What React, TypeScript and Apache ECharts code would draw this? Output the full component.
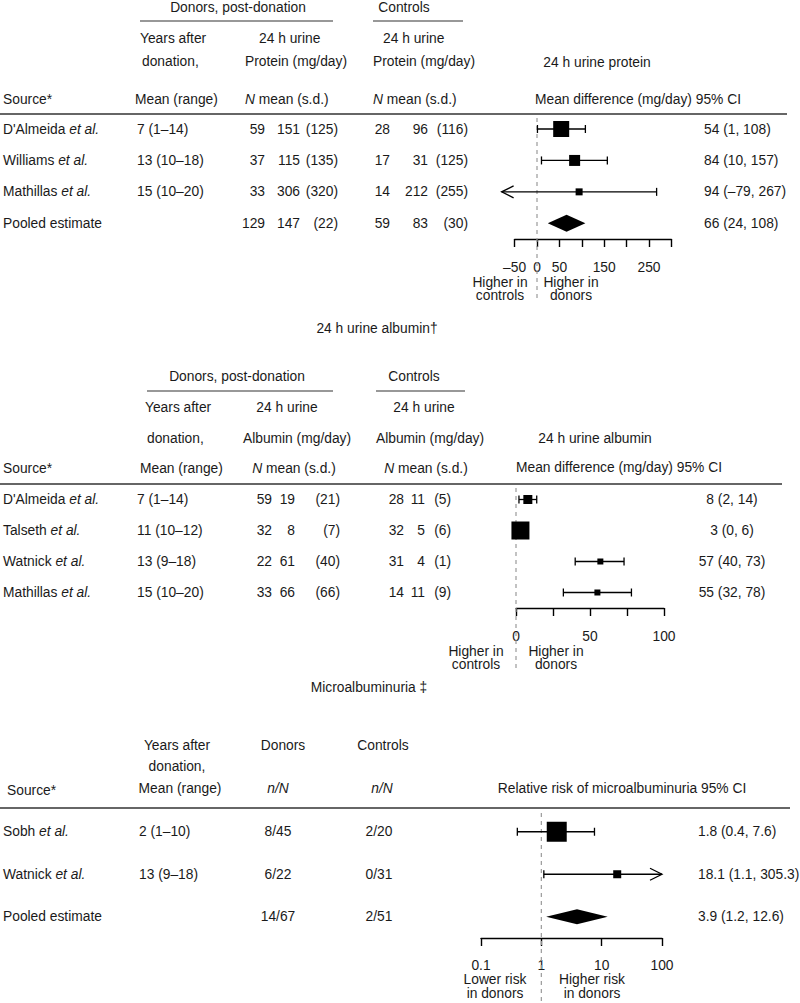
import React, { useEffect, useRef } from 'react';
import * as echarts from 'echarts';

// ---------------- Data: 24 h urine protein ----------------
const proteinSources = ["D'Almeida", 'Williams', 'Mathillas', 'Pooled estimate'];
const proteinEtAl = [true, true, true, false];
const proteinYears = ['7 (1\u201314)', '13 (10\u201318)', '15 (10\u201320)', ''];
const proteinDonorN = [59, 37, 33, 129];
const proteinDonorMean = [151, 115, 306, 147];
const proteinDonorSD = [125, 135, 320, 22];
const proteinCtrlN = [28, 17, 14, 59];
const proteinCtrlMean = [96, 31, 212, 83];
const proteinCtrlSD = [116, 125, 255, 30];
const proteinDiff = [54, 84, 94, 66];
const proteinLo = [1, 10, -79, 24];
const proteinHi = [108, 157, 267, 108];
const proteinPooled = [false, false, false, true];
const proteinTickLabels = [-50, 0, 50, 150, 250];

// ---------------- Data: 24 h urine albumin ----------------
const albuminSources = ["D'Almeida", 'Talseth', 'Watnick', 'Mathillas'];
const albuminYears = ['7 (1\u201314)', '11 (10\u201312)', '13 (9\u201318)', '15 (10\u201320)'];
const albuminDonorN = [59, 32, 22, 33];
const albuminDonorMean = [19, 8, 61, 66];
const albuminDonorSD = [21, 7, 40, 66];
const albuminCtrlN = [28, 32, 31, 14];
const albuminCtrlMean = [11, 5, 4, 11];
const albuminCtrlSD = [5, 6, 1, 9];
const albuminDiff = [8, 3, 57, 55];
const albuminLo = [2, 0, 40, 32];
const albuminHi = [14, 6, 73, 78];
const albuminPooled = [false, false, false, false];
const albuminTickLabels = [0, 50, 100];

// ---------------- Data: Microalbuminuria ----------------
const microSources = ['Sobh', 'Watnick', 'Pooled estimate'];
const microEtAl = [true, true, false];
const microYears = ['2 (1\u201310)', '13 (9\u201318)', ''];
const microDonors = ['8/45', '6/22', '14/67'];
const microControls = ['2/20', '0/31', '2/51'];
const microRR = [1.8, 18.1, 3.9];
const microLo = [0.4, 1.1, 1.2];
const microHi = [7.6, 305.3, 12.6];
const microPooled = [false, false, true];
const microTickLabels = [0.1, 1, 10, 100];

// ---------------- Styles (marker sizes, not data) ----------------
const proteinBoxPx = [16, 11, 7, 0];
const albuminBoxPx = [9, 18, 6, 6];
const microBoxPx = [20, 8, 0];

const FONT = '"Liberation Sans", Arial, Helvetica, sans-serif';
const FS = 13.8;
const INK = '#1a1a1a';
const RICH = { i: { fontStyle: 'italic', fontSize: FS, fontFamily: FONT, fill: INK, color: INK } };

const dash = (s: string) => s.replace(/-/g, '\u2013');
const fmtCI = (e: number, l: number, h: number) => dash(`${e} (${l}, ${h})`);

const txt = (text: string, x: number, y: number, align: string = 'left', extra: any = {}) => ({
  type: 'text',
  x,
  y,
  silent: true,
  style: {
    text,
    fill: INK,
    fontSize: FS,
    fontFamily: FONT,
    align,
    verticalAlign: 'middle',
    rich: RICH,
    ...extra,
  },
});

const hline = (x1: number, x2: number, y: number, w = 1.5) => ({
  type: 'line',
  silent: true,
  shape: { x1, y1: y, x2, y2: y },
  style: { stroke: '#333', lineWidth: w },
});

type Cell = { text: string; x: number; align: string };

function forestSeries(o: {
  idx: number;
  est: number[];
  lo: number[];
  hi: number[];
  pooled: boolean[];
  box: number[];
  cells: (i: number) => Cell[];
  range: [number, number];
  clamp: [number, number];
  diamondH: number;
}) {
  return {
    type: 'custom',
    xAxisIndex: o.idx,
    yAxisIndex: o.idx,
    clip: false,
    z: 5,
    data: o.est.map((e, i) => [e, i, o.lo[i], o.hi[i]]),
    renderItem: (params: any, api: any) => {
      const i = params.dataIndex;
      const e = api.value(0);
      const row = api.value(1);
      const l = api.value(2);
      const h = api.value(3);
      const [cx, cy] = api.coord([e, row]);
      const X = (v: number) => api.coord([v, row])[0];
      const children: any[] = o.cells(i).map((c) => txt(c.text, c.x, cy, c.align));
      const ln = (x1: number, y1: number, x2: number, y2: number) => ({
        type: 'line',
        shape: { x1, y1, x2, y2 },
        style: { stroke: '#000', lineWidth: 1.3 },
      });
      if (o.pooled[i]) {
        const hh = o.diamondH / 2;
        children.push({
          type: 'polygon',
          shape: { points: [[X(l), cy], [cx, cy - hh], [X(h), cy], [cx, cy + hh]] },
          style: { fill: '#000' },
        });
      } else {
        const lc = Math.max(l, o.clamp[0]);
        const hc = Math.min(h, o.clamp[1]);
        const xl = X(lc);
        const xh = X(hc);
        children.push(ln(xl, cy, xh, cy));
        if (l < o.range[0]) {
          children.push({
            type: 'polyline',
            shape: { points: [[xl + 12, cy - 6], [xl, cy], [xl + 12, cy + 6]] },
            style: { stroke: '#000', lineWidth: 1.3, fill: 'none' },
          });
        } else {
          children.push(ln(xl, cy - 4, xl, cy + 4));
        }
        if (h > o.range[1]) {
          children.push({
            type: 'polyline',
            shape: { points: [[xh - 12, cy - 6], [xh, cy], [xh - 12, cy + 6]] },
            style: { stroke: '#000', lineWidth: 1.3, fill: 'none' },
          });
        } else {
          children.push(ln(xh, cy - 4, xh, cy + 4));
        }
        const s = o.box[i];
        children.push({
          type: 'rect',
          shape: { x: cx - s / 2, y: cy - s / 2, width: s, height: s },
          style: { fill: '#000' },
        });
      }
      return { type: 'group', children };
    },
  };
}

function refSeries(idx: number, ref: number, top: number, bottom: number) {
  return {
    type: 'custom',
    xAxisIndex: idx,
    yAxisIndex: idx,
    clip: false,
    z: 1,
    data: [[ref, 0]],
    renderItem: (_p: any, api: any) => {
      const x = api.coord([api.value(0), 0])[0];
      return {
        type: 'line',
        shape: { x1: x, y1: top, x2: x, y2: bottom },
        style: { stroke: '#9a9a9a', lineWidth: 1.2, lineDash: [4, 4] },
      };
    },
  };
}

const axisCommon = (idx: number, margin: number) => ({
  gridIndex: idx,
  axisLine: { show: true, onZero: false, lineStyle: { color: '#000', width: 1.4 } },
  axisTick: { show: true, inside: false, length: 8, lineStyle: { color: '#000', width: 1.4 } },
  splitLine: { show: false },
  axisLabel: {
    margin,
    fontSize: FS,
    fontFamily: FONT,
    color: INK,
    interval: 0,
    showMinLabel: true,
    showMaxLabel: true,
  },
});

const matchTick = (v: number, list: number[], log = false) => {
  for (const t of list) {
    if (log ? Math.abs(Math.log10(v) - Math.log10(t)) < 1e-6 : Math.abs(v - t) < 1e-9) {
      return dash(String(t));
    }
  }
  return '';
};

export default function App() {
  const ref = useRef<HTMLDivElement>(null);
  useEffect(() => {
    if (!ref.current) return;
    const chart = echarts.init(ref.current, undefined, { renderer: 'svg' });

    const ax1: any = axisCommon(0, 21);
    ax1.axisLabel.formatter = (v: number) => matchTick(v, proteinTickLabels);
    const ax2: any = axisCommon(1, 21);
    ax2.axisLabel.formatter = (v: number) => matchTick(v, albuminTickLabels);
    const ax3: any = axisCommon(2, 20);
    ax3.axisLabel.formatter = (v: number) => matchTick(v, microTickLabels, true);

    const graphics: any[] = [
      // ---- Section 1 header ----
      txt('Donors, post-donation', 238, 7, 'center'),
      hline(140, 333, 21, 1.2),
      txt('Controls', 404, 7, 'center'),
      hline(373, 463, 21, 1.2),
      txt('Years after', 140, 38),
      txt('donation,', 142, 61),
      txt('Mean (range)', 135, 99),
      txt('Source*', 3, 99),
      txt('24 h urine', 259, 38),
      txt('Protein (mg/day)', 245, 61),
      txt('{i|N} mean (s.d.)', 245, 99),
      txt('24 h urine', 383, 38),
      txt('Protein (mg/day)', 373, 61),
      txt('{i|N} mean (s.d.)', 373, 99),
      txt('24 h urine protein', 597, 62, 'center'),
      txt('Mean difference (mg/day) 95% CI', 638, 99, 'center'),
      hline(0, 787, 114),
      txt('Higher in\ncontrols', 500, 289, 'center', { lineHeight: 13 }),
      txt('Higher in\ndonors', 571, 289, 'center', { lineHeight: 13 }),

      // ---- Section 2 header ----
      txt('24 h urine albumin\u2020', 377, 328, 'center'),
      txt('Donors, post-donation', 237, 376, 'center'),
      hline(147, 333, 391, 1.2),
      txt('Controls', 414, 376, 'center'),
      hline(376, 465, 391, 1.2),
      txt('Years after', 145, 407),
      txt('donation,', 147, 438),
      txt('Mean (range)', 140, 468),
      txt('Source*', 3, 468),
      txt('24 h urine', 287, 407, 'center'),
      txt('Albumin (mg/day)', 297, 438, 'center'),
      txt('{i|N} mean (s.d.)', 294, 468, 'center'),
      txt('24 h urine', 424, 407, 'center'),
      txt('Albumin (mg/day)', 430, 438, 'center'),
      txt('{i|N} mean (s.d.)', 426, 468, 'center'),
      txt('24 h urine albumin', 595, 438, 'center'),
      txt('Mean difference (mg/day) 95% CI', 619, 467, 'center'),
      hline(0, 782, 484),
      txt('Higher in\ncontrols', 476, 658, 'center', { lineHeight: 13 }),
      txt('Higher in\ndonors', 556, 658, 'center', { lineHeight: 13 }),

      // ---- Section 3 header ----
      txt('Microalbuminuria \u2021', 369, 687, 'center'),
      txt('Years after', 177, 745, 'center'),
      txt('donation,', 177, 766, 'center'),
      txt('Mean (range)', 180, 788, 'center'),
      txt('Source*', 7, 790),
      txt('Donors', 283, 745, 'center'),
      txt('{i|n/N}', 278, 788, 'center'),
      txt('Controls', 383, 745, 'center'),
      txt('{i|n/N}', 382, 788, 'center'),
      txt('Relative risk of microalbuminuria 95% CI', 622, 788, 'center'),
      hline(0, 790, 808),
      txt('Lower risk\nin donors', 495, 986, 'center', { lineHeight: 14 }),
      txt('Higher risk\nin donors', 592, 986, 'center', { lineHeight: 14 }),
    ];

    const src = (s: string, etal: boolean) => (etal ? `${s} {i|et al.}` : s);

    const option: any = {
      animation: false,
      backgroundColor: '#fff',
      grid: [
        { left: 514.6, width: 156.8, top: 113.3, height: 125.7, outerBoundsMode: 'none', containLabel: false },
        { left: 516, width: 148, top: 484, height: 124, outerBoundsMode: 'none', containLabel: false },
        { left: 481, width: 181, top: 810.5, height: 127.5, outerBoundsMode: 'none', containLabel: false },
      ],
      xAxis: [
        { type: 'value', min: -50, max: 300, interval: 50, ...ax1 },
        { type: 'value', min: 0, max: 100, interval: 25, ...ax2 },
        { type: 'log', logBase: 10, min: 0.1, max: 100, ...ax3 },
      ],
      yAxis: [
        { type: 'category', gridIndex: 0, inverse: true, show: false, data: proteinSources.map((_, i) => i) },
        { type: 'category', gridIndex: 1, inverse: true, show: false, data: albuminSources.map((_, i) => i) },
        { type: 'category', gridIndex: 2, inverse: true, show: false, data: microSources.map((_, i) => i) },
      ],
      graphic: { elements: graphics },
      series: [
        refSeries(0, 0, 118, 300),
        refSeries(1, 0, 488, 672),
        refSeries(2, 1, 813, 1003),
        forestSeries({
          idx: 0,
          est: proteinDiff,
          lo: proteinLo,
          hi: proteinHi,
          pooled: proteinPooled,
          box: proteinBoxPx,
          range: [-50, 300],
          clamp: [-100, 300],
          diamondH: 17,
          cells: (i) => [
            { text: src(proteinSources[i], proteinEtAl[i]), x: 3, align: 'left' },
            { text: proteinYears[i], x: 137, align: 'left' },
            { text: String(proteinDonorN[i]), x: 265, align: 'right' },
            { text: String(proteinDonorMean[i]), x: 300, align: 'right' },
            { text: `(${proteinDonorSD[i]})`, x: 338, align: 'right' },
            { text: String(proteinCtrlN[i]), x: 390, align: 'right' },
            { text: String(proteinCtrlMean[i]), x: 428, align: 'right' },
            { text: `(${proteinCtrlSD[i]})`, x: 468, align: 'right' },
            { text: fmtCI(proteinDiff[i], proteinLo[i], proteinHi[i]), x: 704, align: 'left' },
          ],
        }),
        forestSeries({
          idx: 1,
          est: albuminDiff,
          lo: albuminLo,
          hi: albuminHi,
          pooled: albuminPooled,
          box: albuminBoxPx,
          range: [0, 100],
          clamp: [0, 100],
          diamondH: 16,
          cells: (i) => [
            { text: src(albuminSources[i], true), x: 3, align: 'left' },
            { text: albuminYears[i], x: 137, align: 'left' },
            { text: String(albuminDonorN[i]), x: 272, align: 'right' },
            { text: String(albuminDonorMean[i]), x: 295, align: 'right' },
            { text: `(${albuminDonorSD[i]})`, x: 340, align: 'right' },
            { text: String(albuminCtrlN[i]), x: 404, align: 'right' },
            { text: String(albuminCtrlMean[i]), x: 425, align: 'right' },
            { text: `(${albuminCtrlSD[i]})`, x: 451, align: 'right' },
            { text: fmtCI(albuminDiff[i], albuminLo[i], albuminHi[i]), x: 732, align: 'center' },
          ],
        }),
        forestSeries({
          idx: 2,
          est: microRR,
          lo: microLo,
          hi: microHi,
          pooled: microPooled,
          box: microBoxPx,
          range: [0.1, 100],
          clamp: [0.1, 100],
          diamondH: 15,
          cells: (i) => [
            { text: src(microSources[i], microEtAl[i]), x: 3, align: 'left' },
            { text: microYears[i], x: 139, align: 'left' },
            { text: microDonors[i], x: 278, align: 'center' },
            { text: microControls[i], x: 379, align: 'center' },
            { text: fmtCI(microRR[i], microLo[i], microHi[i]), x: 698, align: 'left' },
          ],
        }),
      ],
    };
    chart.setOption(option);
    return () => chart.dispose();
  }, []);
  return (
    <div
      ref={ref}
      style={{ position: 'absolute', left: 0, top: 0, width: 800, height: 1003, background: '#fff' }}
    />
  );
}
